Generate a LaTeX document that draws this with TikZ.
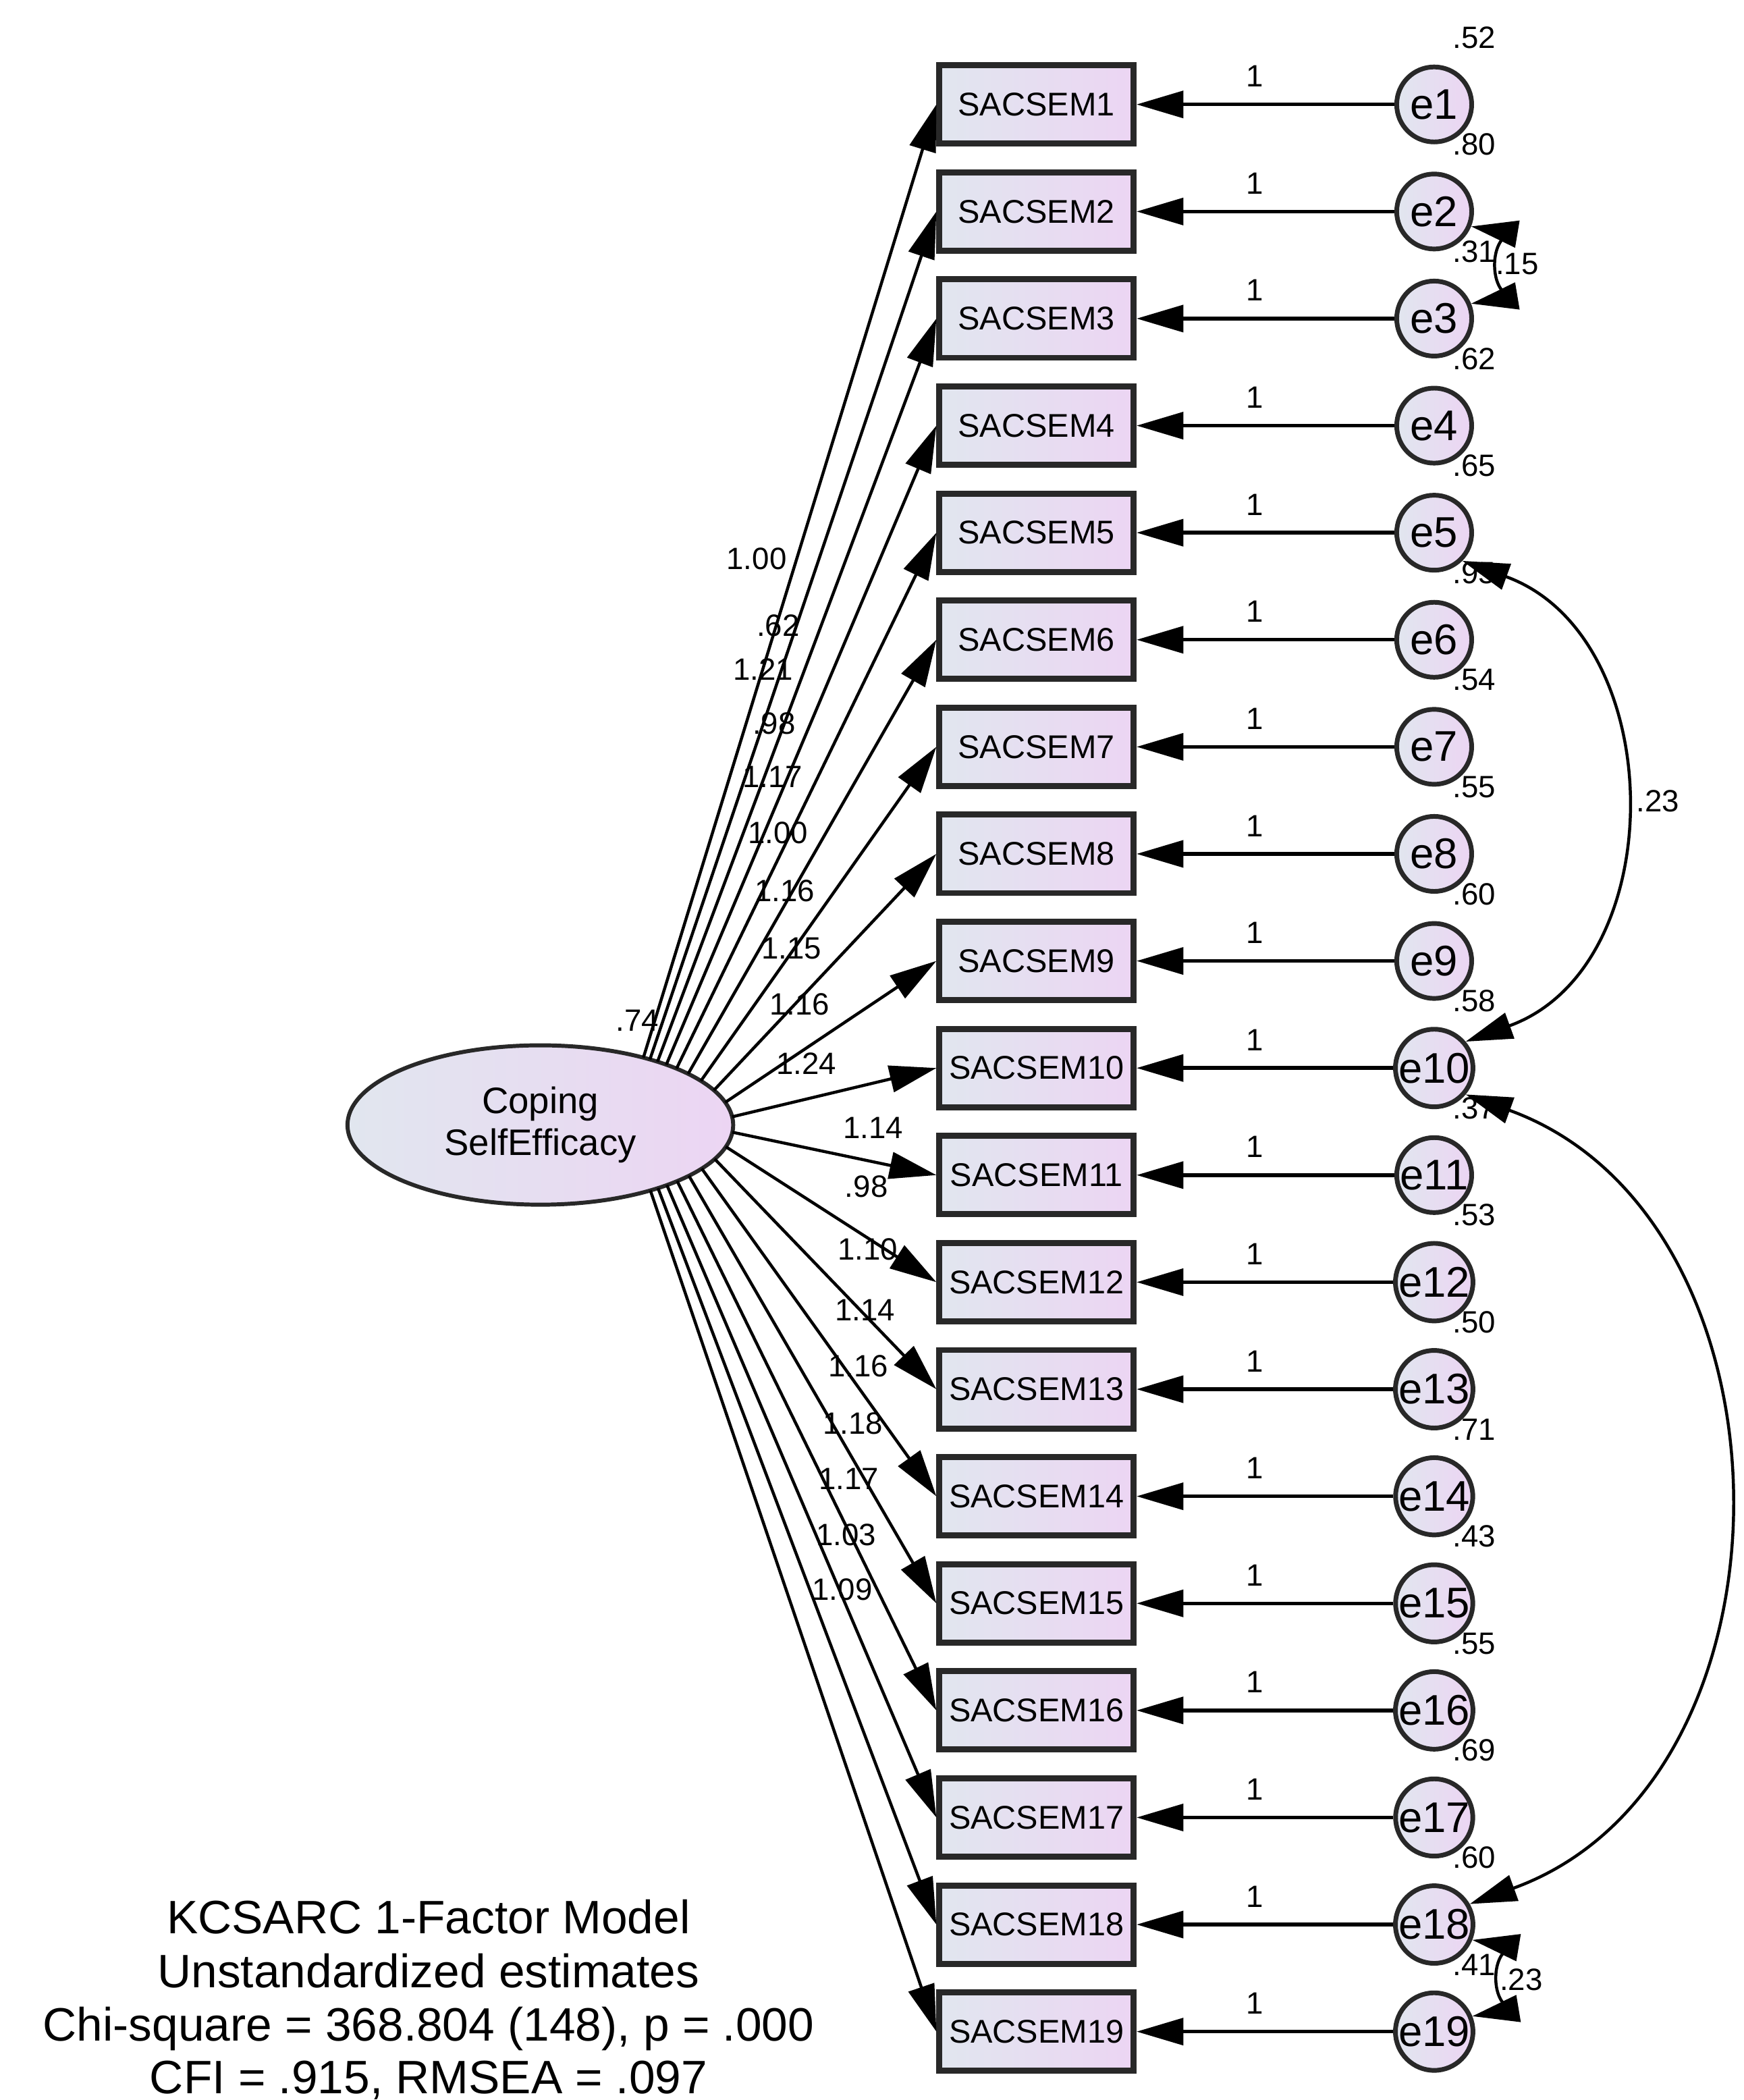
\documentclass[tikz,border=0pt]{standalone}
\usepackage{fontspec}
\setmainfont{Liberation Sans}
\usetikzlibrary{arrows.meta,shapes.geometric,calc}
\definecolor{gradL}{RGB}{225,230,239}
\definecolor{gradR}{RGB}{236,213,243}
\definecolor{edge}{RGB}{40,40,40}
\begin{document}
\begin{tikzpicture}[x=0.2pt,y=-0.2pt,
  obs/.style={rectangle, draw=edge, line width=0.9pt, left color=gradL, right color=gradR,
    minimum width=29pt, minimum height=11.7pt, inner sep=0pt, font=\fontsize{4.9}{5.5}\selectfont},
  err/.style={circle, draw=edge, line width=0.7pt, left color=gradL, right color=gradR,
    minimum size=11.2pt, inner sep=0pt, font=\fontsize{6.4}{7}\selectfont},
  lat/.style={ellipse, draw=edge, line width=0.6pt, left color=gradL, right color=gradR,
    minimum width=57.6pt, minimum height=23.8pt, inner sep=0pt, align=center,
    font=\fontsize{5.5}{6.2}\selectfont},
  lbl/.style={font=\fontsize{4.6}{5}\selectfont, inner sep=0pt},
  ttl/.style={font=\fontsize{7}{8}\selectfont, inner sep=0pt, anchor=base},
  arr/.style={-{Triangle[length=7pt,width=4pt]}},
  load/.style={arr, line width=0.45pt},
  errarr/.style={arr, line width=0.55pt},
  cov/.style={{Triangle[length=7pt,width=4pt]}-{Triangle[length=7pt,width=4pt]}, line width=0.45pt}
]
\useasboundingbox (0,0) rectangle (1302,1568);

\node[lat] (F) at (403.5,840) {Coping\\SelfEfficacy};
\node[lbl] (fv) at (476,762) {.74};

\foreach \k/\v/\lt/\lx/\ly in {
  1/.52/1.00/565/417, 2/.80/.62/581/467, 3/.31/1.21/570/500, 4/.62/.98/578/540,
  5/.65/1.17/577/580, 6/.95/1.00/581/622, 7/.54/1.16/586/665, 8/.55/1.15/591/708,
  9/.60/1.16/597/750, 10/.58/1.24/602/794, 11/.37/1.14/652/842, 12/.53/.98/647/886,
  13/.50/1.10/648/933, 14/.71/1.14/646/978, 15/.43/1.16/641/1020, 16/.55/1.18/637/1063,
  17/.69/1.17/634/1104, 18/.60/1.03/632/1146, 19/.41/1.09/629/1187} {
  \pgfmathsetmacro\yy{78+79.94*(\k-1)}
  \node[obs] (S\k) at (774,\yy) {SACSEM\k};
  \node[err] (e\k) at (1071,\yy) {e\k};
  \node[lbl] (one\k) at (937,\yy-21) {1};
  \node[lbl] (v\k) at (1101,\yy-50) {\v};
  \node[lbl] (w\k) at (\lx,\ly) {\lt};
  \draw[errarr] (e\k) -- (S\k.east);
  \pgfmathsetmacro\ph{0.9*atan2(\yy-840,370)}
  \coordinate (Fs\k) at ($(F.center)+({144*cos(\ph)},{59.5*sin(\ph)})$);
  \draw[load] (Fs\k) -- (S\k.west);
}

\node[lbl] (c23) at (1133,197) {.15};
\node[lbl] (c510) at (1238,598) {.23};
\node[lbl] (c1819) at (1136,1478) {.23};

\draw[cov] (e2.-22) .. controls +(12,2) and +(12,-2) .. (e3.22);
\draw[cov] (e5.-45) .. controls +(155,56) and +(155,-56) .. (e10.40);
\draw[cov] (e10.-40) .. controls +(254,92) and +(254,-92) .. (e18.30);
\draw[cov] (e18.-22) .. controls +(12,2) and +(12,-2) .. (e19.22);

\node[ttl] (t1) at (320,1443.6) {KCSARC 1-Factor Model};
\node[ttl] (t2) at (320,1484) {Unstandardized estimates};
\node[ttl] (t3) at (320,1524) {Chi-square = 368.804 (148), p = .000};
\node[ttl] (t4) at (320,1563) {CFI = .915, RMSEA = .097};
\end{tikzpicture}
\end{document}
